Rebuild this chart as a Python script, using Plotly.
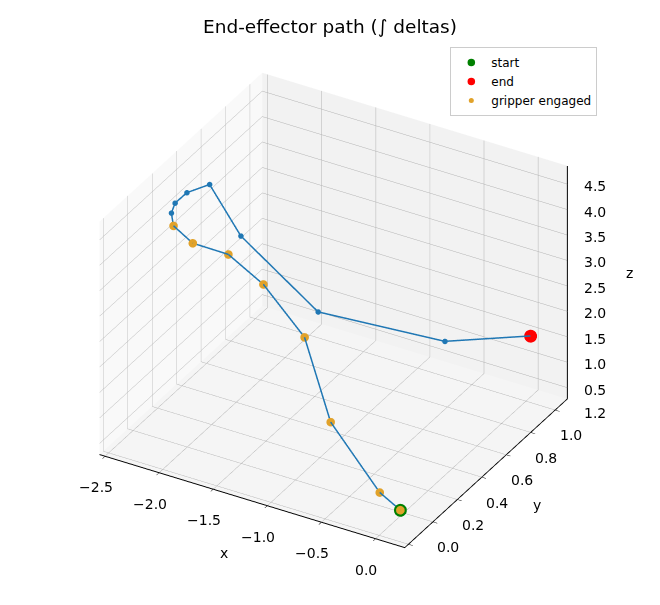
import math
import plotly.graph_objects as go

# Path points (integrated deltas)
xs = [0.147, -0.033, -0.656, -1.132, -1.626, -1.980, -2.196, -2.384,
      -2.437, -2.429, -2.349, -2.119, -1.724, -0.960, -0.282, 0.000]
ys = [0.042, 0.033, 0.183, 0.391, 0.491, 0.518, 0.418, 0.427,
      0.457, 0.480, 0.506, 0.488, 0.394, 0.350, 0.787, 1.237]
zs = [0.78, 1.03, 1.68, 2.58, 3.08, 3.38, 3.68, 3.88,
      4.03, 4.18, 4.38, 4.73, 4.18, 3.28, 2.18, 1.48]
gripper = [1, 1, 1, 1, 1, 1, 1, 1, 0, 0, 0, 0, 0, 0, 0, 0]

x_ticks = [-2.5, -2.0, -1.5, -1.0, -0.5, 0.0]
y_ticks = [0.0, 0.2, 0.4, 0.6, 0.8, 1.0, 1.2]
z_ticks = [0.5, 1.0, 1.5, 2.0, 2.5, 3.0, 3.5, 4.0, 4.5]
x_range = [-2.55, 0.27]
y_range = [-0.03, 1.30]
z_range = [0.28, 4.86]


def lab(v):
    return f"{v:.1f}".replace("-", "\u2212")


gx = [a for a, g in zip(xs, gripper) if g]
gy = [a for a, g in zip(ys, gripper) if g]
gz = [a for a, g in zip(zs, gripper) if g]

BLUE = "#1f77b4"
fig = go.Figure()
fig.add_trace(go.Scatter3d(
    x=xs, y=ys, z=zs, mode="lines+markers",
    line=dict(color=BLUE, width=3),
    marker=dict(size=3.2, color=BLUE),
    showlegend=False, hoverinfo="skip"))
fig.add_trace(go.Scatter3d(
    x=[xs[0]], y=[ys[0]], z=[zs[0]], mode="markers", name="start",
    marker=dict(size=7.5, color="green")))
fig.add_trace(go.Scatter3d(
    x=[xs[-1]], y=[ys[-1]], z=[zs[-1]], mode="markers", name="end",
    marker=dict(size=7.5, color="red")))
fig.add_trace(go.Scatter3d(
    x=gx, y=gy, z=gz, mode="markers", name="gripper engaged",
    marker=dict(size=5, color="rgb(225,162,42)", line=dict(width=0))))
# z axis line on the back-right edge (as in the reference)
fig.add_trace(go.Scatter3d(
    x=[x_range[1], x_range[1]], y=[y_range[1], y_range[1]], z=z_range,
    mode="lines", line=dict(color="black", width=2),
    showlegend=False, hoverinfo="skip"))

axis_common = dict(
    showbackground=True, gridcolor="rgb(178,178,178)", gridwidth=1,
    zeroline=False, showspikes=False, showticklabels=False,
    title=dict(text=""),
)

tick_font = dict(family="DejaVu Sans", size=14, color="black")
ann = []
for v in x_ticks:
    ann.append(dict(x=v, y=y_range[0], z=z_range[0], text=lab(v), showarrow=False,
                    xshift=-9, yshift=-31, font=tick_font))
for v in y_ticks:
    ann.append(dict(x=x_range[1], y=v, z=z_range[0], text=lab(v), showarrow=False,
                    xshift=40, yshift=-3, font=tick_font))
for v in z_ticks:
    ann.append(dict(x=x_range[1], y=y_range[1], z=v, text=lab(v), showarrow=False,
                    xshift=28, yshift=-2, font=tick_font))
ann.append(dict(x=sum(x_range) / 2, y=y_range[0], z=z_range[0], text="x",
                showarrow=False, xshift=-28, yshift=-52, font=tick_font))
ann.append(dict(x=x_range[1], y=sum(y_range) / 2, z=z_range[0], text="y",
                showarrow=False, xshift=51, yshift=-32, font=tick_font))
ann.append(dict(x=x_range[1], y=y_range[1], z=sum(z_range) / 2, text="z",
                showarrow=False, xshift=62, yshift=9, font=tick_font))

elev = math.radians(33)
azim = math.radians(-60)
dist = 1.3
eye = dict(x=dist * math.cos(elev) * math.cos(azim),
           y=dist * math.cos(elev) * math.sin(azim),
           z=dist * math.sin(elev))
k = 1.12

fig.update_layout(
    width=660, height=605,
    margin=dict(l=0, r=0, t=0, b=0),
    paper_bgcolor="white",
    font=dict(family="DejaVu Sans", color="black"),
    title=dict(text="End-effector path (\u222b deltas)", x=0.5, xanchor="center",
               y=1 - 27 / 605, yanchor="middle",
               font=dict(family="DejaVu Sans", size=18.5, color="black")),
    legend=dict(x=0.905, y=1 - 47 / 605, xanchor="right", yanchor="top",
                bgcolor="white", bordercolor="#cccccc", borderwidth=1,
                font=dict(family="DejaVu Sans", size=12, color="black")),
    scene=dict(
        domain=dict(x=[0.01, 1.0], y=[0.0, 1.0]),
        aspectmode="manual",
        aspectratio=dict(x=1.04 * k, y=0.96 * k, z=0.81 * k),
        xaxis=dict(range=x_range, tickvals=x_ticks,
                   showline=True, linecolor="black", linewidth=2,
                   ticks="outside", tickcolor="black", ticklen=5,
                   backgroundcolor="rgb(249,249,249)", **axis_common),
        yaxis=dict(range=y_range, tickvals=y_ticks,
                   showline=True, linecolor="black", linewidth=2,
                   ticks="outside", tickcolor="black", ticklen=5,
                   backgroundcolor="rgb(242,242,242)", **axis_common),
        zaxis=dict(range=z_range, tickvals=z_ticks,
                   showline=False, ticks="",
                   backgroundcolor="rgb(245,245,245)", **axis_common),
        annotations=ann,
        camera=dict(eye=eye, center=dict(x=0, y=0, z=0.03),
                    projection=dict(type="orthographic")),
    ),
)

fig.write_html("out.html")
